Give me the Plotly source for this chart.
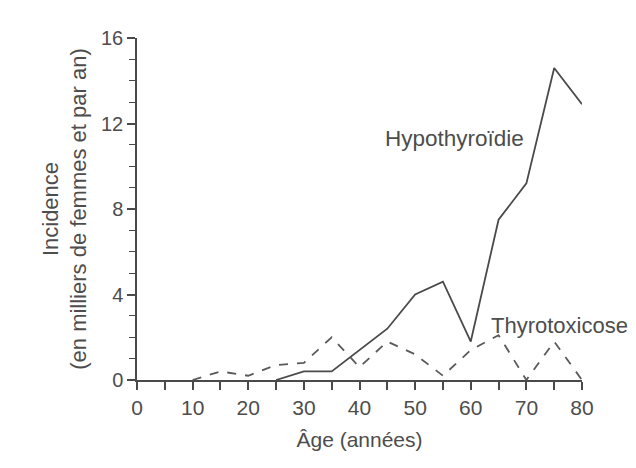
import plotly.graph_objects as go

age_hypo = [25, 30, 35, 40, 45, 50, 55, 60, 65, 70, 75, 80]
hypothyroidie = [0, 0.4, 0.4, 1.4, 2.4, 4.0, 4.6, 1.8, 7.5, 9.2, 14.6, 12.9]

age_thyro = [10, 15, 20, 25, 30, 35, 40, 45, 50, 55, 60, 65, 70, 75, 80]
thyrotoxicose = [0, 0.4, 0.2, 0.7, 0.8, 2.0, 0.6, 1.8, 1.2, 0.2, 1.4, 2.1, 0, 1.8, 0]

x_ticks = [0, 10, 20, 30, 40, 50, 60, 70, 80]
y_ticks = [0, 4, 8, 12, 16]

line_col = "#4a4a4a"
text_col = "#4d4d4d"
font_fam = "Liberation Sans, Arial, sans-serif"

fig = go.Figure()
fig.add_trace(go.Scatter(x=age_hypo, y=hypothyroidie, mode="lines",
                         line=dict(color=line_col, width=1.8), showlegend=False))
fig.add_trace(go.Scatter(x=age_thyro, y=thyrotoxicose, mode="lines",
                         line=dict(color="#5a5a5a", width=1.8, dash="dash"), showlegend=False))

fig.add_annotation(x=57.0, y=11.3, text="Hypothyroïdie", showarrow=False,
                   font=dict(size=22.5, color=text_col, family=font_fam))
fig.add_annotation(x=75.9, y=2.57, text="Thyrotoxicose", showarrow=False,
                   font=dict(size=22, color=text_col, family=font_fam))

fig.update_layout(
    width=628, height=460,
    margin=dict(l=129, r=54, t=30, b=88),
    plot_bgcolor="white", paper_bgcolor="white",
    font=dict(family=font_fam, color=text_col, size=20),
    xaxis=dict(range=[0, 80], tickvals=x_ticks, ticktext=[str(v) for v in x_ticks],
               showgrid=False, zeroline=False, showline=True, linecolor=line_col, linewidth=1.5,
               ticks="outside", ticklen=8, tickcolor=line_col, tickwidth=1.5,
               minor=dict(dtick=5, ticks="outside", ticklen=8, tickcolor=line_col, tickwidth=1.5),
               tickfont=dict(size=21, color=text_col),
               title=dict(text="Âge (années)", font=dict(size=21, color=text_col), standoff=14)),
    yaxis=dict(range=[0, 16], tickvals=y_ticks, ticktext=[str(v) for v in y_ticks],
               showgrid=False, zeroline=False, showline=True, linecolor=line_col, linewidth=1.5,
               ticks="outside", ticklen=8, tickcolor=line_col, tickwidth=1.5,
               minor=dict(dtick=1, ticks="outside", ticklen=6, tickcolor=line_col, tickwidth=1.2),
               tickfont=dict(size=20, color=text_col),
               title=dict(text="Incidence<br>(en milliers de femmes et par an)",
                          font=dict(size=22, color=text_col), standoff=8)),
)

fig.write_html("out.html")
